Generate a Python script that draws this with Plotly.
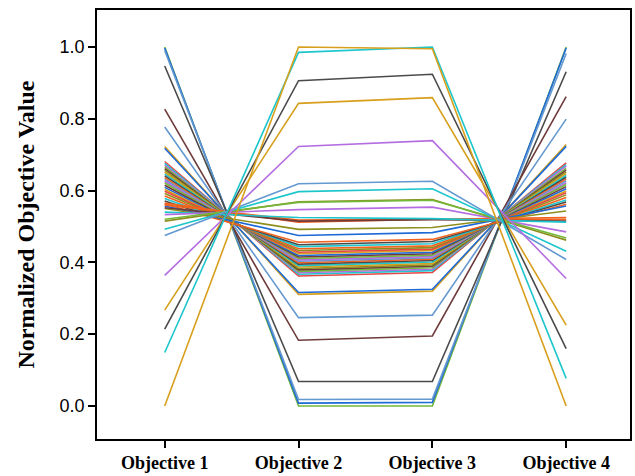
import plotly.graph_objects as go

objectives = ["Objective 1", "Objective 2", "Objective 3", "Objective 4"]
x_pos = [1, 2, 3, 4]

palette = {
    "gold": "#D79F1C",
    "cyan": "#1CC6CC",
    "darkgray": "#4A4A4A",
    "purple": "#B46DE0",
    "lightblue": "#6498D0",
    "olive": "#8E8E1E",
    "blue": "#1E6AD6",
    "brown": "#6E3B3B",
    "green": "#74B83A",
    "orangered": "#F0621E",
    "red": "#E84545",
}

obj1 = [1.000, 0.997, 0.990, 0.947, 0.827, 0.777, 0.723, 0.718,
        0.681, 0.676, 0.671, 0.666, 0.661, 0.656, 0.651, 0.646, 0.641, 0.636,
        0.631, 0.626, 0.621, 0.615, 0.609, 0.603, 0.598, 0.592, 0.585, 0.578,
        0.571, 0.563, 0.557, 0.550, 0.565, 0.560, 0.552, 0.540, 0.533, 0.515,
        0.520, 0.492, 0.475, 0.364, 0.267, 0.214, 0.149, 0.000]
obj2 = [0.000, 0.008, 0.018, 0.068, 0.183, 0.246, 0.311, 0.316,
        0.362, 0.367, 0.371, 0.375, 0.379, 0.383, 0.387, 0.391, 0.395, 0.399,
        0.403, 0.407, 0.411, 0.415, 0.419, 0.424, 0.428, 0.433, 0.438, 0.444,
        0.449, 0.456, 0.475, 0.492, 0.512, 0.518, 0.515, 0.525, 0.547, 0.569,
        0.567, 0.597, 0.619, 0.723, 0.843, 0.906, 0.985, 1.000]
obj3 = [0.000, 0.010, 0.019, 0.068, 0.195, 0.253, 0.320, 0.325,
        0.372, 0.377, 0.381, 0.385, 0.389, 0.393, 0.397, 0.401, 0.405, 0.409,
        0.412, 0.416, 0.420, 0.424, 0.428, 0.433, 0.437, 0.441, 0.446, 0.452,
        0.458, 0.464, 0.483, 0.497, 0.520, 0.521, 0.519, 0.522, 0.554, 0.575,
        0.573, 0.605, 0.626, 0.739, 0.859, 0.924, 1.000, 0.995]
obj4 = [1.000, 0.997, 0.982, 0.931, 0.862, 0.799, 0.728, 0.723,
        0.677, 0.672, 0.668, 0.662, 0.657, 0.652, 0.647, 0.642, 0.637, 0.632,
        0.627, 0.622, 0.617, 0.611, 0.605, 0.599, 0.594, 0.588, 0.581, 0.574,
        0.568, 0.562, 0.557, 0.543, 0.525, 0.520, 0.515, 0.512, 0.485, 0.462,
        0.468, 0.431, 0.408, 0.355, 0.225, 0.160, 0.077, 0.000]
line_colors = ["green", "blue", "lightblue", "darkgray", "brown", "lightblue", "gold", "blue",
               "red", "cyan", "purple", "green", "brown", "olive", "gold", "cyan", "darkgray", "orangered",
               "lightblue", "purple", "green", "brown", "blue", "gold", "red", "olive", "orangered", "cyan",
               "darkgray", "orangered", "blue", "olive", "orangered", "orangered", "brown", "cyan", "purple", "olive",
               "green", "cyan", "lightblue", "purple", "gold", "darkgray", "cyan", "gold"]

fig = go.Figure()
for i in range(len(obj1)):
    fig.add_trace(go.Scatter(
        x=x_pos, y=[obj1[i], obj2[i], obj3[i], obj4[i]],
        mode="lines", line=dict(color=palette[line_colors[i]], width=1.6),
        showlegend=False, hoverinfo="skip"))

fig.update_layout(
    width=635, height=476,
    margin=dict(l=97, r=3, t=10, b=36),
    paper_bgcolor="white", plot_bgcolor="white",
    showlegend=False,
)
fig.update_xaxes(
    range=[0.494, 4.477], tickvals=x_pos, ticktext=objectives,
    showgrid=False, zeroline=False,
    showline=True, mirror=True, linecolor="black", linewidth=1.5,
    ticks="outside", ticklen=7, tickwidth=1.5, tickcolor="black",
    tickfont=dict(family="Liberation Serif", size=18, color="black", weight="bold"),
)
fig.update_yaxes(
    range=[-0.092, 1.103], tickvals=[0.0, 0.2, 0.4, 0.6, 0.8, 1.0],
    tickformat=".1f",
    showgrid=False, zeroline=False,
    showline=True, mirror=True, linecolor="black", linewidth=1.5,
    ticks="outside", ticklen=7, tickwidth=1.5, tickcolor="black",
    tickfont=dict(family="Liberation Sans", size=18, color="black"),
    title=dict(text="<b>Normalized Objective Value</b>",
               font=dict(family="Liberation Serif", size=24, color="black"),
               standoff=18),
)

fig.write_html("out.html")
